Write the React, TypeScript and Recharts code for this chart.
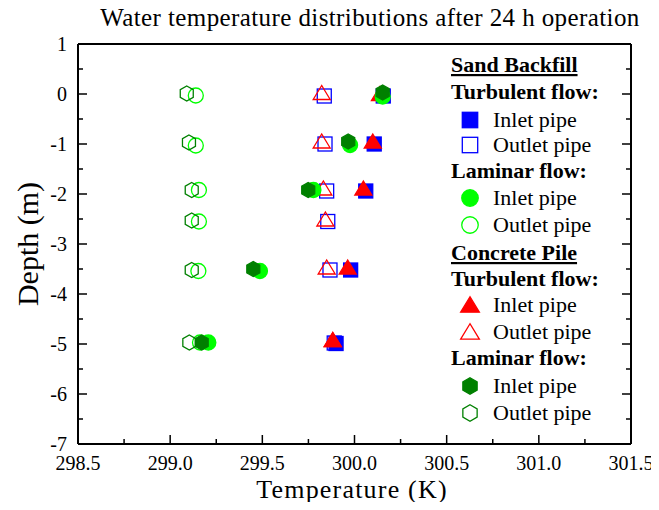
import React from 'react';
import { ScatterChart, Scatter, XAxis, YAxis } from 'recharts';

// ---------- data ----------
const sandTurbulentInlet = [
  { temp: 300.156, depth: -0.04 },
  { temp: 300.107, depth: -1.0 },
  { temp: 300.061, depth: -1.94 },
  { temp: 299.979, depth: -3.52 },
  { temp: 299.9, depth: -4.99 },
];
const sandTurbulentOutlet = [
  { temp: 299.836, depth: -0.04 },
  { temp: 299.84, depth: -1.0 },
  { temp: 299.849, depth: -1.94 },
  { temp: 299.855, depth: -2.55 },
  { temp: 299.867, depth: -3.52 },
  { temp: 299.89, depth: -4.98 },
];
const sandLaminarInlet = [
  { temp: 300.153, depth: -0.05 },
  { temp: 299.976, depth: -1.02 },
  { temp: 299.777, depth: -1.92 },
  { temp: 299.487, depth: -3.54 },
  { temp: 299.207, depth: -4.97 },
];
const sandLaminarOutlet = [
  { temp: 299.139, depth: -0.03 },
  { temp: 299.139, depth: -1.03 },
  { temp: 299.156, depth: -1.92 },
  { temp: 299.156, depth: -2.55 },
  { temp: 299.153, depth: -3.54 },
  { temp: 299.162, depth: -4.97 },
];
const concreteTurbulentInlet = [
  { temp: 300.138, depth: 0.0 },
  { temp: 300.099, depth: -0.95 },
  { temp: 300.048, depth: -1.89 },
  { temp: 299.963, depth: -3.47 },
  { temp: 299.882, depth: -4.92 },
];
const concreteTurbulentOutlet = [
  { temp: 299.822, depth: 0.02 },
  { temp: 299.822, depth: -0.95 },
  { temp: 299.831, depth: -1.89 },
  { temp: 299.842, depth: -2.51 },
  { temp: 299.849, depth: -3.47 },
  { temp: 299.882, depth: -4.92 },
];
const concreteLaminarInlet = [
  { temp: 300.153, depth: 0.03 },
  { temp: 299.966, depth: -0.95 },
  { temp: 299.749, depth: -1.92 },
  { temp: 299.451, depth: -3.5 },
  { temp: 299.171, depth: -4.97 },
];
const concreteLaminarOutlet = [
  { temp: 299.09, depth: 0.01 },
  { temp: 299.102, depth: -0.97 },
  { temp: 299.117, depth: -1.92 },
  { temp: 299.117, depth: -2.53 },
  { temp: 299.117, depth: -3.52 },
  { temp: 299.104, depth: -4.97 },
];

const xMajorTicks = [298.5, 299.0, 299.5, 300.0, 300.5, 301.0, 301.5];
const xMinorTicks = [298.75, 299.25, 299.75, 300.25, 300.75, 301.25];
const yMajorTicks = [1, 0, -1, -2, -3, -4, -5, -6, -7];
const yMinorTicks = [0.5, -0.5, -1.5, -2.5, -3.5, -4.5, -5.5, -6.5];

const titleText = 'Water temperature distributions after 24 h operation';
const xTitle = 'Temperature (K)';
const yTitle = 'Depth (m)';

const BLUE = '#0000ff';
const LIME = '#00ff00';
const RED = '#ff0000';
const DKGREEN = '#008000';

type Kind = 'square' | 'circle' | 'triangle' | 'hexagon';

const series = [
  { name: 'sandTurbulentInlet', data: sandTurbulentInlet, kind: 'square' as Kind, color: BLUE, filled: true },
  { name: 'sandTurbulentOutlet', data: sandTurbulentOutlet, kind: 'square' as Kind, color: BLUE, filled: false },
  { name: 'concreteTurbulentInlet', data: concreteTurbulentInlet, kind: 'triangle' as Kind, color: RED, filled: true },
  { name: 'concreteTurbulentOutlet', data: concreteTurbulentOutlet, kind: 'triangle' as Kind, color: RED, filled: false },
  { name: 'sandLaminarInlet', data: sandLaminarInlet, kind: 'circle' as Kind, color: LIME, filled: true },
  { name: 'sandLaminarOutlet', data: sandLaminarOutlet, kind: 'circle' as Kind, color: LIME, filled: false },
  { name: 'concreteLaminarInlet', data: concreteLaminarInlet, kind: 'hexagon' as Kind, color: DKGREEN, filled: true },
  { name: 'concreteLaminarOutlet', data: concreteLaminarOutlet, kind: 'hexagon' as Kind, color: DKGREEN, filled: false },
];

const legendRows = [
  { type: 'group', text: 'Sand Backfill' },
  { type: 'head', text: 'Turbulent flow:' },
  { type: 'item', text: 'Inlet pipe', kind: 'square' as Kind, color: BLUE, filled: true },
  { type: 'item', text: 'Outlet pipe', kind: 'square' as Kind, color: BLUE, filled: false },
  { type: 'head', text: 'Laminar flow:' },
  { type: 'item', text: 'Inlet pipe', kind: 'circle' as Kind, color: LIME, filled: true },
  { type: 'item', text: 'Outlet pipe', kind: 'circle' as Kind, color: LIME, filled: false },
  { type: 'group', text: 'Concrete Pile' },
  { type: 'head', text: 'Turbulent flow:' },
  { type: 'item', text: 'Inlet pipe', kind: 'triangle' as Kind, color: RED, filled: true },
  { type: 'item', text: 'Outlet pipe', kind: 'triangle' as Kind, color: RED, filled: false },
  { type: 'head', text: 'Laminar flow:' },
  { type: 'item', text: 'Inlet pipe', kind: 'hexagon' as Kind, color: DKGREEN, filled: true },
  { type: 'item', text: 'Outlet pipe', kind: 'hexagon' as Kind, color: DKGREEN, filled: false },
];

const FONT = '"Liberation Serif", "Times New Roman", serif';

// ---------- markers ----------
function Marker({ kind, cx, cy, color, filled, s = 1 }: { kind: Kind; cx: number; cy: number; color: string; filled: boolean; s?: number }) {
  const fill = filled ? color : 'none';
  const sw = 1.3;
  if (kind === 'square') {
    const h = 7 * s;
    return <rect x={cx - h} y={cy - h} width={2 * h} height={2 * h} fill={fill} stroke={color} strokeWidth={sw} />;
  }
  if (kind === 'circle') {
    return <circle cx={cx} cy={cy} r={7.5 * s} fill={fill} stroke={color} strokeWidth={sw} />;
  }
  if (kind === 'triangle') {
    const w = 8.5 * s;
    const pts = `${cx},${cy - 7.5 * s} ${cx - w},${cy + 6.5 * s} ${cx + w},${cy + 6.5 * s}`;
    return <polygon points={pts} fill={fill} stroke={color} strokeWidth={sw} />;
  }
  const r = 7.5 * s;
  const pts = [-90, -30, 30, 90, 150, 210]
    .map((a) => {
      const rad = (a * Math.PI) / 180;
      return `${cx + r * Math.cos(rad)},${cy + r * Math.sin(rad)}`;
    })
    .join(' ');
  return <polygon points={pts} fill={fill} stroke={color} strokeWidth={sw} />;
}

// ---------- ticks ----------
const isMajorX = (v: number) => xMajorTicks.some((m) => Math.abs(m - v) < 1e-6);
const isMajorY = (v: number) => yMajorTicks.some((m) => Math.abs(m - v) < 1e-6);
const tickTextStyle = { fontFamily: FONT, fontSize: 20, fill: '#000' };

function BottomTick(props: any) {
  const { x, y, payload } = props;
  const major = isMajorX(payload.value);
  const len = major ? 9 : 5;
  return (
    <g>
      <line x1={x} y1={y} x2={x} y2={y - len} stroke="#000" strokeWidth={1.5} />
      {major && (
        <text x={x} y={y + 26} textAnchor="middle" fontFamily={FONT} fontSize={20} style={tickTextStyle}>
          {payload.value.toFixed(1)}
        </text>
      )}
    </g>
  );
}
function TopTick(props: any) {
  const { x, y, payload } = props;
  const major = isMajorX(payload.value);
  const len = major ? 9 : 5;
  return <line x1={x} y1={y} x2={x} y2={y + len} stroke="#000" strokeWidth={1.5} />;
}
function LeftTick(props: any) {
  const { x, y, payload } = props;
  const major = isMajorY(payload.value);
  const len = major ? 9 : 5;
  return (
    <g>
      <line x1={x} y1={y} x2={x + len} y2={y} stroke="#000" strokeWidth={1.5} />
      {major && (
        <text x={x - 11} y={y + 7} textAnchor="end" fontFamily={FONT} fontSize={20} style={tickTextStyle}>
          {String(payload.value)}
        </text>
      )}
    </g>
  );
}
function RightTick(props: any) {
  const { x, y, payload } = props;
  const major = isMajorY(payload.value);
  const len = major ? 9 : 5;
  return <line x1={x} y1={y} x2={x - len} y2={y} stroke="#000" strokeWidth={1.5} />;
}

const W = 659;
const H = 510;

export default function App() {
  const xTicks = [...xMajorTicks, ...xMinorTicks].sort((a, b) => a - b);
  const yTicks = [...yMajorTicks, ...yMinorTicks].sort((a, b) => a - b);
  const axisLine = { stroke: '#000', strokeWidth: 2 };

  // legend row centres (page coords)
  const rowY = [65, 92, 120, 145, 171, 198, 225, 253, 279, 305, 332, 358, 386, 413];

  return (
    <div style={{ position: 'relative', width: W, height: H, margin: -8, overflow: 'visible', fontFamily: FONT }}>
      <ScatterChart width={W} height={H} margin={{ top: 43, left: 77, right: 27, bottom: 65 }} style={{ fontFamily: FONT }}>
        <XAxis
          xAxisId="b"
          type="number"
          dataKey="temp"
          domain={[298.5, 301.5]}
          ticks={xTicks}
          interval={0}
          allowDataOverflow
          height={1}
          tickSize={0}
          tickMargin={0}
          tickLine={false}
          axisLine={axisLine}
          tick={<BottomTick />}
        />
        <XAxis
          xAxisId="t"
          orientation="top"
          type="number"
          domain={[298.5, 301.5]}
          ticks={xTicks}
          interval={0}
          allowDataOverflow
          height={1}
          tickSize={0}
          tickMargin={0}
          tickLine={false}
          axisLine={axisLine}
          tick={<TopTick />}
        />
        <YAxis
          yAxisId="l"
          type="number"
          dataKey="depth"
          domain={[-7, 1]}
          ticks={yTicks}
          interval={0}
          allowDataOverflow
          width={1}
          tickSize={0}
          tickMargin={0}
          tickLine={false}
          axisLine={axisLine}
          tick={<LeftTick />}
        />
        <YAxis
          yAxisId="r"
          orientation="right"
          type="number"
          domain={[-7, 1]}
          ticks={yTicks}
          interval={0}
          allowDataOverflow
          width={1}
          tickSize={0}
          tickMargin={0}
          tickLine={false}
          axisLine={axisLine}
          tick={<RightTick />}
        />
        {series.map((s) => (
          <Scatter
            key={s.name}
            name={s.name}
            data={s.data}
            xAxisId="b"
            yAxisId="l"
            isAnimationActive={false}
            shape={(p: any) => <Marker kind={s.kind} cx={p.cx} cy={p.cy} color={s.color} filled={s.filled} />}
          />
        ))}
      </ScatterChart>

      <svg width={W} height={H} style={{ position: 'absolute', left: 0, top: 0, pointerEvents: 'none' }}>
        <text x={370} y={26} textAnchor="middle" fontFamily={FONT} fontSize={25} letterSpacing={0.4} fill="#000">
          {titleText}
        </text>
        <text x={352} y={498} textAnchor="middle" fontFamily={FONT} fontSize={26} letterSpacing={1.2} fill="#000">
          {xTitle}
        </text>
        <text
          x={0}
          y={0}
          transform={`translate(38, 244) rotate(-90)`}
          textAnchor="middle"
          fontFamily={FONT}
          fontSize={30}
          fill="#000"
        >
          {yTitle}
        </text>
        {legendRows.map((r, i) => {
          const y = rowY[i];
          if (r.type === 'group' || r.type === 'head') {
            return (
              <text
                key={i}
                x={451}
                y={y + 7}
                fontFamily={FONT}
                fontSize={22}
                fontWeight="bold"
                textDecoration={r.type === 'group' ? 'underline' : undefined}
                fill="#000"
              >
                {r.text}
              </text>
            );
          }
          return (
            <g key={i}>
              <Marker kind={r.kind as Kind} cx={470} cy={y} color={r.color as string} filled={!!r.filled} s={1.1} />
              <text x={493} y={y + 7} fontFamily={FONT} fontSize={22} fill="#000">
                {r.text}
              </text>
            </g>
          );
        })}
      </svg>
    </div>
  );
}
